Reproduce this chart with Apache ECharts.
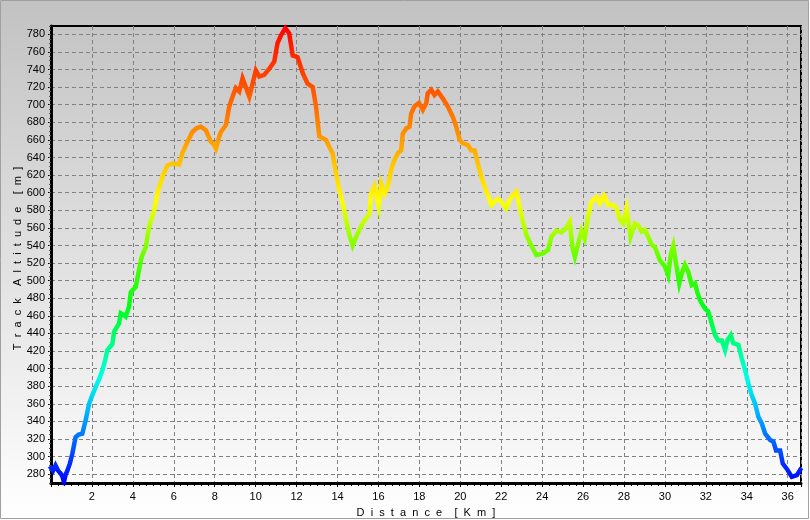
<!DOCTYPE html>
<html>
<head>
<meta charset="utf-8">
<script src="https://cdn.jsdelivr.net/npm/echarts@6/dist/echarts.min.js"></script>
<style>
html,body{margin:0;padding:0;background:#fff;}
#chart{width:810px;height:520px;}
</style>
</head>
<body>
<div id="chart"></div>
<script>
// distance along the track [km]
const distanceKm = [0,0.1,0.22,0.35,0.47,0.55,0.63,0.72,0.8,0.92,1.04,1.2,1.35,1.53,1.69,1.86,2.02,2.18,2.35,2.51,2.65,2.75,3.0,3.08,3.32,3.41,3.55,3.65,3.81,3.9,4.14,4.3,4.43,4.63,4.79,5.04,5.2,5.44,5.69,5.93,6.1,6.26,6.42,6.67,6.91,7.1,7.32,7.57,7.81,7.95,8.06,8.2,8.3,8.55,8.71,8.87,9.03,9.2,9.36,9.52,9.69,9.85,10.01,10.18,10.42,10.67,10.91,11.07,11.24,11.45,11.64,11.81,12.05,12.3,12.54,12.79,12.95,13.11,13.44,13.6,13.76,13.93,14.09,14.25,14.42,14.58,14.74,14.99,15.23,15.4,15.56,15.64,15.8,16.02,16.13,16.3,16.46,16.62,16.78,16.95,17.11,17.19,17.36,17.52,17.6,17.76,17.98,18.17,18.34,18.41,18.58,18.74,18.9,19.15,19.39,19.64,19.8,19.97,20.13,20.37,20.54,20.7,20.86,21.03,21.19,21.35,21.52,21.68,21.84,22.0,22.25,22.41,22.57,22.74,22.9,23.06,23.23,23.47,23.72,24.04,24.29,24.45,24.7,24.94,25.15,25.35,25.48,25.6,25.76,25.92,26.08,26.25,26.41,26.66,26.82,27.02,27.23,27.47,27.64,27.8,27.96,28.13,28.32,28.53,28.69,28.86,29.02,29.18,29.35,29.51,29.76,30.0,30.16,30.28,30.41,30.54,30.7,30.82,30.98,31.14,31.31,31.47,31.58,31.71,31.96,32.12,32.29,32.45,32.61,32.78,32.94,33.05,33.22,33.34,33.59,33.75,33.92,34.08,34.24,34.41,34.57,34.73,34.9,35.14,35.3,35.43,35.63,35.76,35.96,36.2,36.45,36.61];
// track altitude [m]
const altitudeM = [287,284,290,284,281,278,271,280,284,292,303,322,325,326,341,360,370,379,388,398,410,421,428,442,451,463,461,459,470,487,493,512,527,538,561,580,599,618,631,633,633,632,645,658,669,673,675,671,658,655,650,662,669,677,698,709,719,715,730,720,709,724,739,732,734,741,749,770,779,787,781,756,754,736,724,720,698,664,660,652,645,622,603,588,569,552,540,554,565,571,576,599,607,584,610,599,607,626,637,645,648,667,673,675,690,698,702,694,702,713,717,711,715,707,698,686,675,660,656,654,648,648,633,618,607,597,586,590,593,590,582,592,597,601,584,567,552,540,529,531,535,550,557,555,559,567,538,527,542,557,548,573,590,595,588,597,586,586,582,569,565,582,550,565,563,556,558,550,541,538,523,516,506,529,540,520,497,508,518,510,495,497,487,478,468,465,451,438,432,432,421,432,438,429,427,412,398,383,370,360,345,338,326,319,317,307,307,292,286,277,279,285];
// y-axis tick values [m]
const altitudeTicks = [280,300,320,340,360,380,400,420,440,460,480,500,520,540,560,580,600,620,640,660,680,700,720,740,760,780];
// axis titles
const xTitleWords = ['Distance', '[Km]'];
const yTitleWords = ['Track', 'Altitude', '[m]'];
// altitude colour ramp (blue -> red)
const rampColors = ['#0000ff','#0055ff','#00b3ff','#00ffe6','#00ff80','#00ff15','#40ff00','#99ff00','#ffff00','#ffc800','#ff8c00','#ff5e00','#ff2f00','#ff0000'];

const points = distanceKm.map((d, i) => [d, altitudeM[i]]);
const spaced = words => words.map(w => w.split('').join('  ')).join('    ');
const FONT = 'Liberation Sans, Arial, sans-serif';

const chart = echarts.init(document.getElementById('chart'), null, {renderer: 'canvas'});
chart.setOption({
  animation: false,
  backgroundColor: '#ffffff',
  graphic: [{
    type: 'rect', z: -10, silent: true,
    shape: {x: 0.5, y: 0.5, width: 808, height: 518},
    style: {
      fill: new echarts.graphic.LinearGradient(0, 0, 0, 1, [
        {offset: 0, color: '#c2c2c2'}, {offset: 1, color: '#ffffff'}
      ]),
      stroke: '#a0a0a0', lineWidth: 1
    }
  }],
  grid: {left: 51, top: 26, right: 9, bottom: 37, show: true, borderColor: '#000', borderWidth: 2, backgroundColor: 'transparent', containLabel: false, outerBoundsMode: 'none'},
  xAxis: {
    type: 'value', min: 0, max: 36.65, interval: 2,
    name: spaced(xTitleWords),
    nameLocation: 'middle', nameGap: 24,
    nameTextStyle: {fontFamily: FONT, fontSize: 11, color: '#000', verticalAlign: 'top'},
    axisLine: {show: true, onZero: false, lineStyle: {color: '#000', width: 3}},
    axisTick: {show: true, length: 4, lineStyle: {color: '#000'}},
    minorTick: {show: true, splitNumber: 6, length: 3, lineStyle: {color: '#000'}},
    axisLabel: {showMinLabel: false, showMaxLabel: false, margin: 8, fontFamily: FONT, fontSize: 11, color: '#000'},
    splitLine: {show: true, lineStyle: {color: '#808080', type: [4, 3], width: 1}}
  },
  yAxis: [{
    type: 'value', min: 270, max: 789.5,
    name: spaced(yTitleWords),
    nameLocation: 'middle', nameGap: 28, nameRotate: 90, nameMoveOverlap: false,
    nameTextStyle: {fontFamily: FONT, fontSize: 11, color: '#000', padding: [0, 8, 0, 0]},
    axisLine: {show: true, onZero: false, lineStyle: {color: '#000', width: 3}},
    axisTick: {show: true, length: 3, customValues: altitudeTicks, lineStyle: {color: '#000'}},
    axisLabel: {customValues: altitudeTicks, margin: 6, fontFamily: FONT, fontSize: 11, color: '#000'},
    splitLine: {show: true, lineStyle: {color: '#808080', type: [4, 3], width: 1}}
  }, {
    type: 'value', min: 270, max: 789.5, interval: 5, position: 'left',
    axisLine: {show: false}, axisLabel: {show: false}, splitLine: {show: false},
    axisTick: {show: true, inside: false, length: 2, lineStyle: {color: '#555'}}
  }],
  visualMap: {
    show: false, type: 'continuous', dimension: 1, min: 270, max: 790, seriesIndex: 0,
    inRange: {color: rampColors}
  },
  series: [{
    type: 'line', data: points, showSymbol: false, smooth: false, clip: true, yAxisIndex: 0,
    lineStyle: {width: 4.5, cap: 'square', join: 'miter'}
  }]
});
</script>
</body>
</html>
